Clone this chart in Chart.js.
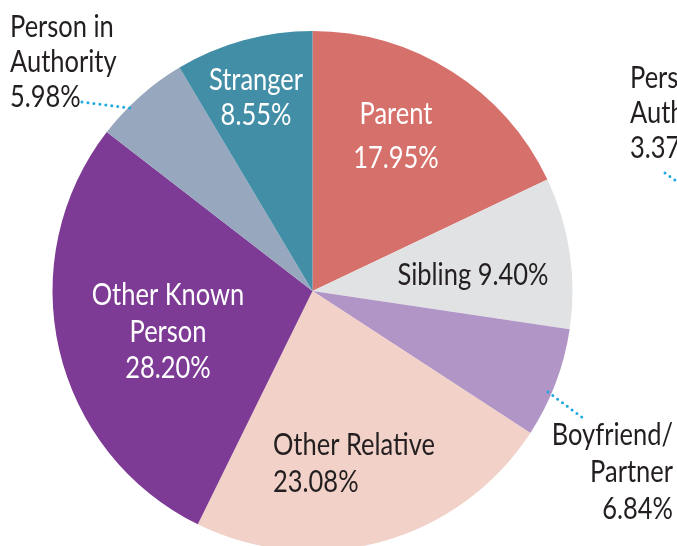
<!DOCTYPE html>
<html>
<head>
<meta charset="utf-8">
<script src="https://cdn.jsdelivr.net/npm/chart.js@4/dist/chart.umd.min.js"></script>
<style>
  html, body { margin: 0; padding: 0; background: #ffffff; width: 677px; height: 546px; overflow: hidden; }
  #wrap { position: relative; width: 677px; height: 560px; }
</style>
</head>
<body>
<div id="wrap"><canvas id="c" width="677" height="560"></canvas></div>
<script>
// ---- data ----
const categories = ['Parent', 'Sibling', 'Boyfriend/Partner', 'Other Relative', 'Other Known Person', 'Person in Authority', 'Stranger'];
const values = [17.95, 9.40, 6.84, 23.08, 28.20, 5.98, 8.55];
// label of the neighbouring (cropped) chart at the right edge
const sideCategories = ['Person in Authority'];
const sideValues = [3.37];

// ---- styles / layout ----
const colors = ['#D6706B', '#E1E2E4', '#B195C6', '#F1D1C8', '#7D3B95', '#97A7BE', '#428EA6'];
const DARK = '#231F20';
const LEADER = '#1CA9E1';
const FONT = "31px Lato, 'DejaVu Sans Condensed', sans-serif";
const REF_TEXT = 'Other Relative';
const REF_WIDTH = 162; // rendered width of REF_TEXT at radius 260

// offsets are in px for a radius of 260, scaled with the actual radius
const labelLayout = [
  { breaks: [], pctOwnLine: true,  align: 'center', dx: 83.5,   dy: -167, gap: 44, color: '#fff' },
  { breaks: [], pctOwnLine: false, align: 'center', dx: 160.5,  dy: -6,   gap: 36, color: DARK },
  { breaks: [10], pctOwnLine: true, align: 'right', dx: 360.5,  dy: 154,  gap: 37, color: DARK,
    leader: [[235.5, 101], [270.5, 127]] },
  { breaks: [], pctOwnLine: true,  align: 'left',   dx: -39.5,  dy: 164,  gap: 37, color: DARK },
  { breaks: [11], pctOwnLine: true, align: 'center', dx: -144.5, dy: 14,  gap: 36.5, color: '#fff' },
  { breaks: [9], pctOwnLine: true, align: 'left',   dx: -302.5, dy: -254, gap: 35, color: DARK,
    leader: [[-230.5, -189], [-182.5, -183]] },
  { breaks: [], pctOwnLine: true,  align: 'center', dx: -56.5,  dy: -201, gap: 35, color: '#fff' }
];
const sideLayout = [
  { breaks: [9], pctOwnLine: true, align: 'left', dx: 317.5, dy: -203, gap: 35, color: DARK,
    leader: [[352.5, -118], [368, -107]] }
];

function buildLines(name, pct, lay) {
  const lines = [];
  let start = 0;
  lay.breaks.forEach(b => { lines.push(name.slice(start, b).trim()); start = b; });
  lines.push(name.slice(start).trim());
  const p = pct.toFixed(2) + '%';
  if (lay.pctOwnLine) lines.push(p); else lines[lines.length - 1] += ' ' + p;
  return lines;
}

function drawLabel(ctx, cx, cy, s, k, name, pct, lay) {
  const lines = buildLines(name, pct, lay);
  if (lay.leader) {
    ctx.save();
    ctx.strokeStyle = LEADER;
    ctx.lineWidth = 3;
    ctx.lineCap = 'round';
    ctx.setLineDash([0, 6]);
    ctx.beginPath();
    ctx.moveTo(cx + lay.leader[0][0] * s, cy + lay.leader[0][1] * s);
    ctx.lineTo(cx + lay.leader[1][0] * s, cy + lay.leader[1][1] * s);
    ctx.stroke();
    ctx.restore();
  }
  lines.forEach((t, i) => {
    ctx.save();
    ctx.font = FONT;
    ctx.fillStyle = lay.color;
    ctx.textAlign = lay.align;
    ctx.textBaseline = 'alphabetic';
    ctx.translate(cx + lay.dx * s, cy + (lay.dy + i * lay.gap) * s);
    ctx.scale(k, s);
    ctx.fillText(t, 0, 0);
    ctx.restore();
  });
}

const labelPlugin = {
  id: 'sliceLabels',
  afterDatasetsDraw(chart) {
    const ctx = chart.ctx;
    const meta = chart.getDatasetMeta(0);
    const arc0 = meta.data[0];
    const cx = arc0.x, cy = arc0.y;
    const s = arc0.outerRadius / 260;
    ctx.save();
    ctx.font = FONT;
    const k = REF_WIDTH * s / ctx.measureText(REF_TEXT).width;
    ctx.restore();
    meta.data.forEach((arc, i) => {
      drawLabel(ctx, cx, cy, s, k, chart.data.labels[i], chart.data.datasets[0].data[i], labelLayout[i]);
    });
    sideCategories.forEach((n, i) => drawLabel(ctx, cx, cy, s, k, n, sideValues[i], sideLayout[i]));
  }
};

new Chart(document.getElementById('c'), {
  type: 'pie',
  data: {
    labels: categories,
    datasets: [{
      data: values,
      backgroundColor: colors,
      borderWidth: 0
    }]
  },
  options: {
    responsive: false,
    animation: false,
    layout: { padding: { left: 52.5, right: 104.5, top: 31, bottom: 9 } },
    plugins: { legend: { display: false }, tooltip: { enabled: false } }
  },
  plugins: [labelPlugin]
});
</script>
</body>
</html>
